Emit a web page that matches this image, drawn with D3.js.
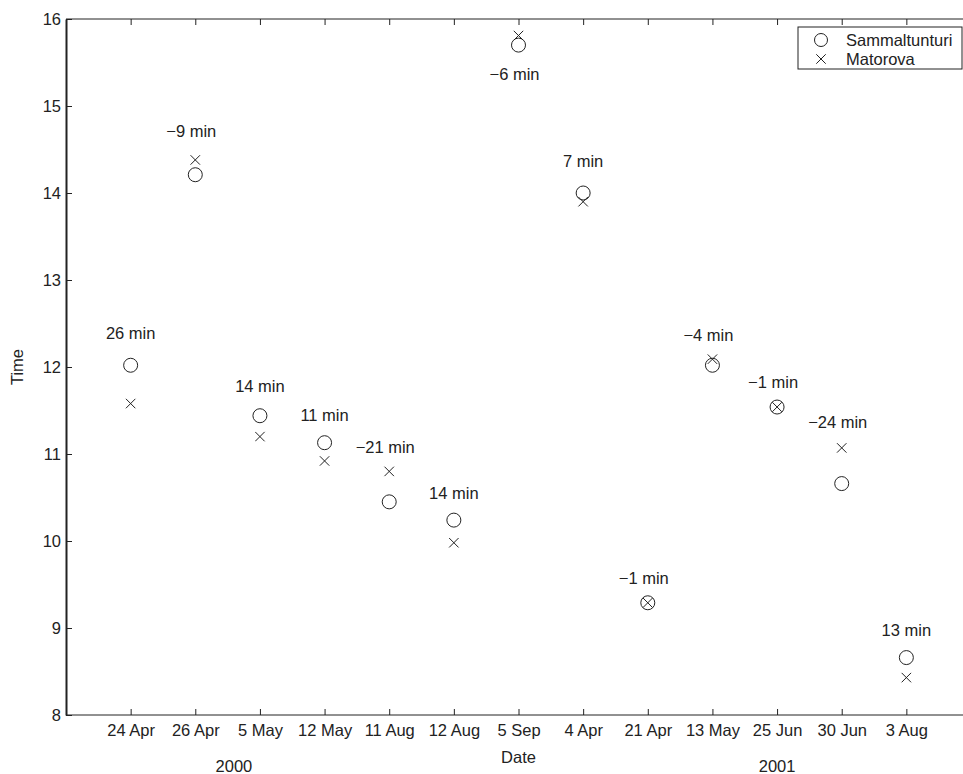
<!DOCTYPE html>
<html>
<head>
<meta charset="utf-8">
<script src="https://cdn.jsdelivr.net/npm/d3@7"></script>
<style>
  body { margin: 0; background: #fff; }
  text { font-family: "Liberation Sans", Arial, Helvetica, sans-serif; fill: #222; }
</style>
</head>
<body>
<div id="chart"></div>
<script>

// dates of the passes (two seasons)
var dates = ["24 Apr","26 Apr","5 May","12 May","11 Aug","12 Aug","5 Sep","4 Apr","21 Apr","13 May","25 Jun","30 Jun","3 Aug"];
// time (hours) at each station
var sammaltunturi = [12.02,14.21,11.44,11.13,10.45,10.24,15.70,14.00,9.29,12.02,11.54,10.66,8.66];
var matorova      = [11.58,14.38,11.20,10.92,10.80,9.98,15.81,13.90,9.29,12.09,11.54,11.07,8.43];
// difference in minutes and where the note sits
var diffMin = [26,-9,14,11,-21,14,-6,7,-1,-4,-1,-24,13];
var noteAt  = [12.39,14.71,11.78,11.45,11.08,10.55,15.36,14.37,9.57,12.36,11.83,11.36,8.97];
var yTicks = [8,9,10,11,12,13,14,15,16];
var years = ["2000","2001"];
var yearAt = ["5 May","25 Jun"];

var width = 963, height = 774;
var mLeft = 66, mRight = 971, mTop = 19, mBottom = 715;
var fs = "16.5px";

var svg = d3.select("#chart").append("svg")
  .attr("width", width)
  .attr("height", height);

var x = d3.scalePoint()
  .domain(dates)
  .range([mLeft, mRight])
  .padding(1);

var y = d3.scaleLinear()
  .domain([8, 16])
  .range([mBottom, mTop]);

// bottom axis, ticks pointing in
var xAxis = d3.axisBottom(x).tickSizeInner(-6).tickSizeOuter(0).tickPadding(9);
var gx = svg.append("g")
  .attr("transform", "translate(0," + mBottom + ")")
  .call(xAxis);
gx.select(".domain").attr("stroke", "#222").attr("d", "M" + mLeft + ",0H" + mRight);
gx.selectAll("line").attr("stroke", "#222");
gx.selectAll("text").style("font-size", fs).attr("fill", "#222");

// top axis, ticks only
var gxt = svg.append("g")
  .attr("transform", "translate(0," + mTop + ")")
  .call(d3.axisTop(x).tickSizeInner(-6).tickSizeOuter(0).tickFormat(""));
gxt.select(".domain").attr("stroke", "#222").attr("d", "M" + mLeft + ",0H" + mRight);
gxt.selectAll("line").attr("stroke", "#222");

// left axis
var yAxis = d3.axisLeft(y).tickValues(yTicks).tickSizeInner(-6).tickSizeOuter(0).tickPadding(5);
var gy = svg.append("g")
  .attr("transform", "translate(" + mLeft + ",0)")
  .call(yAxis);
gy.select(".domain").attr("stroke", "#222").attr("stroke-width", 2);
gy.selectAll("line").attr("stroke", "#222");
gy.selectAll("text").style("font-size", fs).attr("fill", "#222");

// axis titles
svg.append("text")
  .attr("x", x("5 Sep")).attr("y", 763)
  .attr("text-anchor", "middle")
  .style("font-size", fs)
  .text("Date");

svg.append("text")
  .attr("transform", "translate(23," + y(12) + ") rotate(-90)")
  .attr("text-anchor", "middle")
  .style("font-size", fs)
  .text("Time");

svg.selectAll(".year")
  .data(years)
  .enter()
  .append("text")
  .attr("class", "year")
  .attr("x", function(d, i){ return x(yearAt[i]) + (i == 0 ? -26 : 0); })
  .attr("y", 772)
  .attr("text-anchor", "middle")
  .style("font-size", fs)
  .text(function(d){ return d; });

// circles - Sammaltunturi
svg.selectAll(".sam")
  .data(sammaltunturi)
  .enter()
  .append("circle")
  .attr("class", "sam")
  .attr("cx", function(d, i){ return x(dates[i]); })
  .attr("cy", function(d){ return y(d); })
  .attr("r", 7)
  .attr("fill", "none")
  .attr("stroke", "#222")
  .attr("stroke-width", 1);

// crosses - Matorova
var cross = d3.symbol().type(d3.symbolX).size(60);
svg.selectAll(".mat")
  .data(matorova)
  .enter()
  .append("path")
  .attr("class", "mat")
  .attr("d", cross)
  .attr("transform", function(d, i){ return "translate(" + x(dates[i]) + "," + y(d) + ")"; })
  .attr("fill", "none")
  .attr("stroke", "#222")
  .attr("stroke-width", 1);

// difference notes
svg.selectAll(".note")
  .data(diffMin)
  .enter()
  .append("text")
  .attr("class", "note")
  .attr("x", function(d, i){ return x(dates[i]) + (d < 0 ? -4 : 0); })
  .attr("y", function(d, i){ return y(noteAt[i]); })
  .attr("dy", "0.35em")
  .attr("text-anchor", "middle")
  .style("font-size", fs)
  .text(function(d){ return (d < 0 ? "\u2212" + (-d) : d) + " min"; });

// legend
var lg = svg.append("g");
lg.append("rect")
  .attr("x", 798).attr("y", 27)
  .attr("width", 164).attr("height", 42)
  .attr("fill", "#fff")
  .attr("stroke", "#222");
lg.append("circle")
  .attr("cx", 821).attr("cy", 40).attr("r", 6.5)
  .attr("fill", "none").attr("stroke", "#222");
lg.append("path")
  .attr("d", cross)
  .attr("transform", "translate(821,59)")
  .attr("fill", "none").attr("stroke", "#222");
lg.append("text").attr("x", 846).attr("y", 40).attr("dy", "0.35em")
  .style("font-size", fs).text("Sammaltunturi");
lg.append("text").attr("x", 846).attr("y", 59).attr("dy", "0.35em")
  .style("font-size", fs).text("Matorova");

</script>
</body>
</html>
